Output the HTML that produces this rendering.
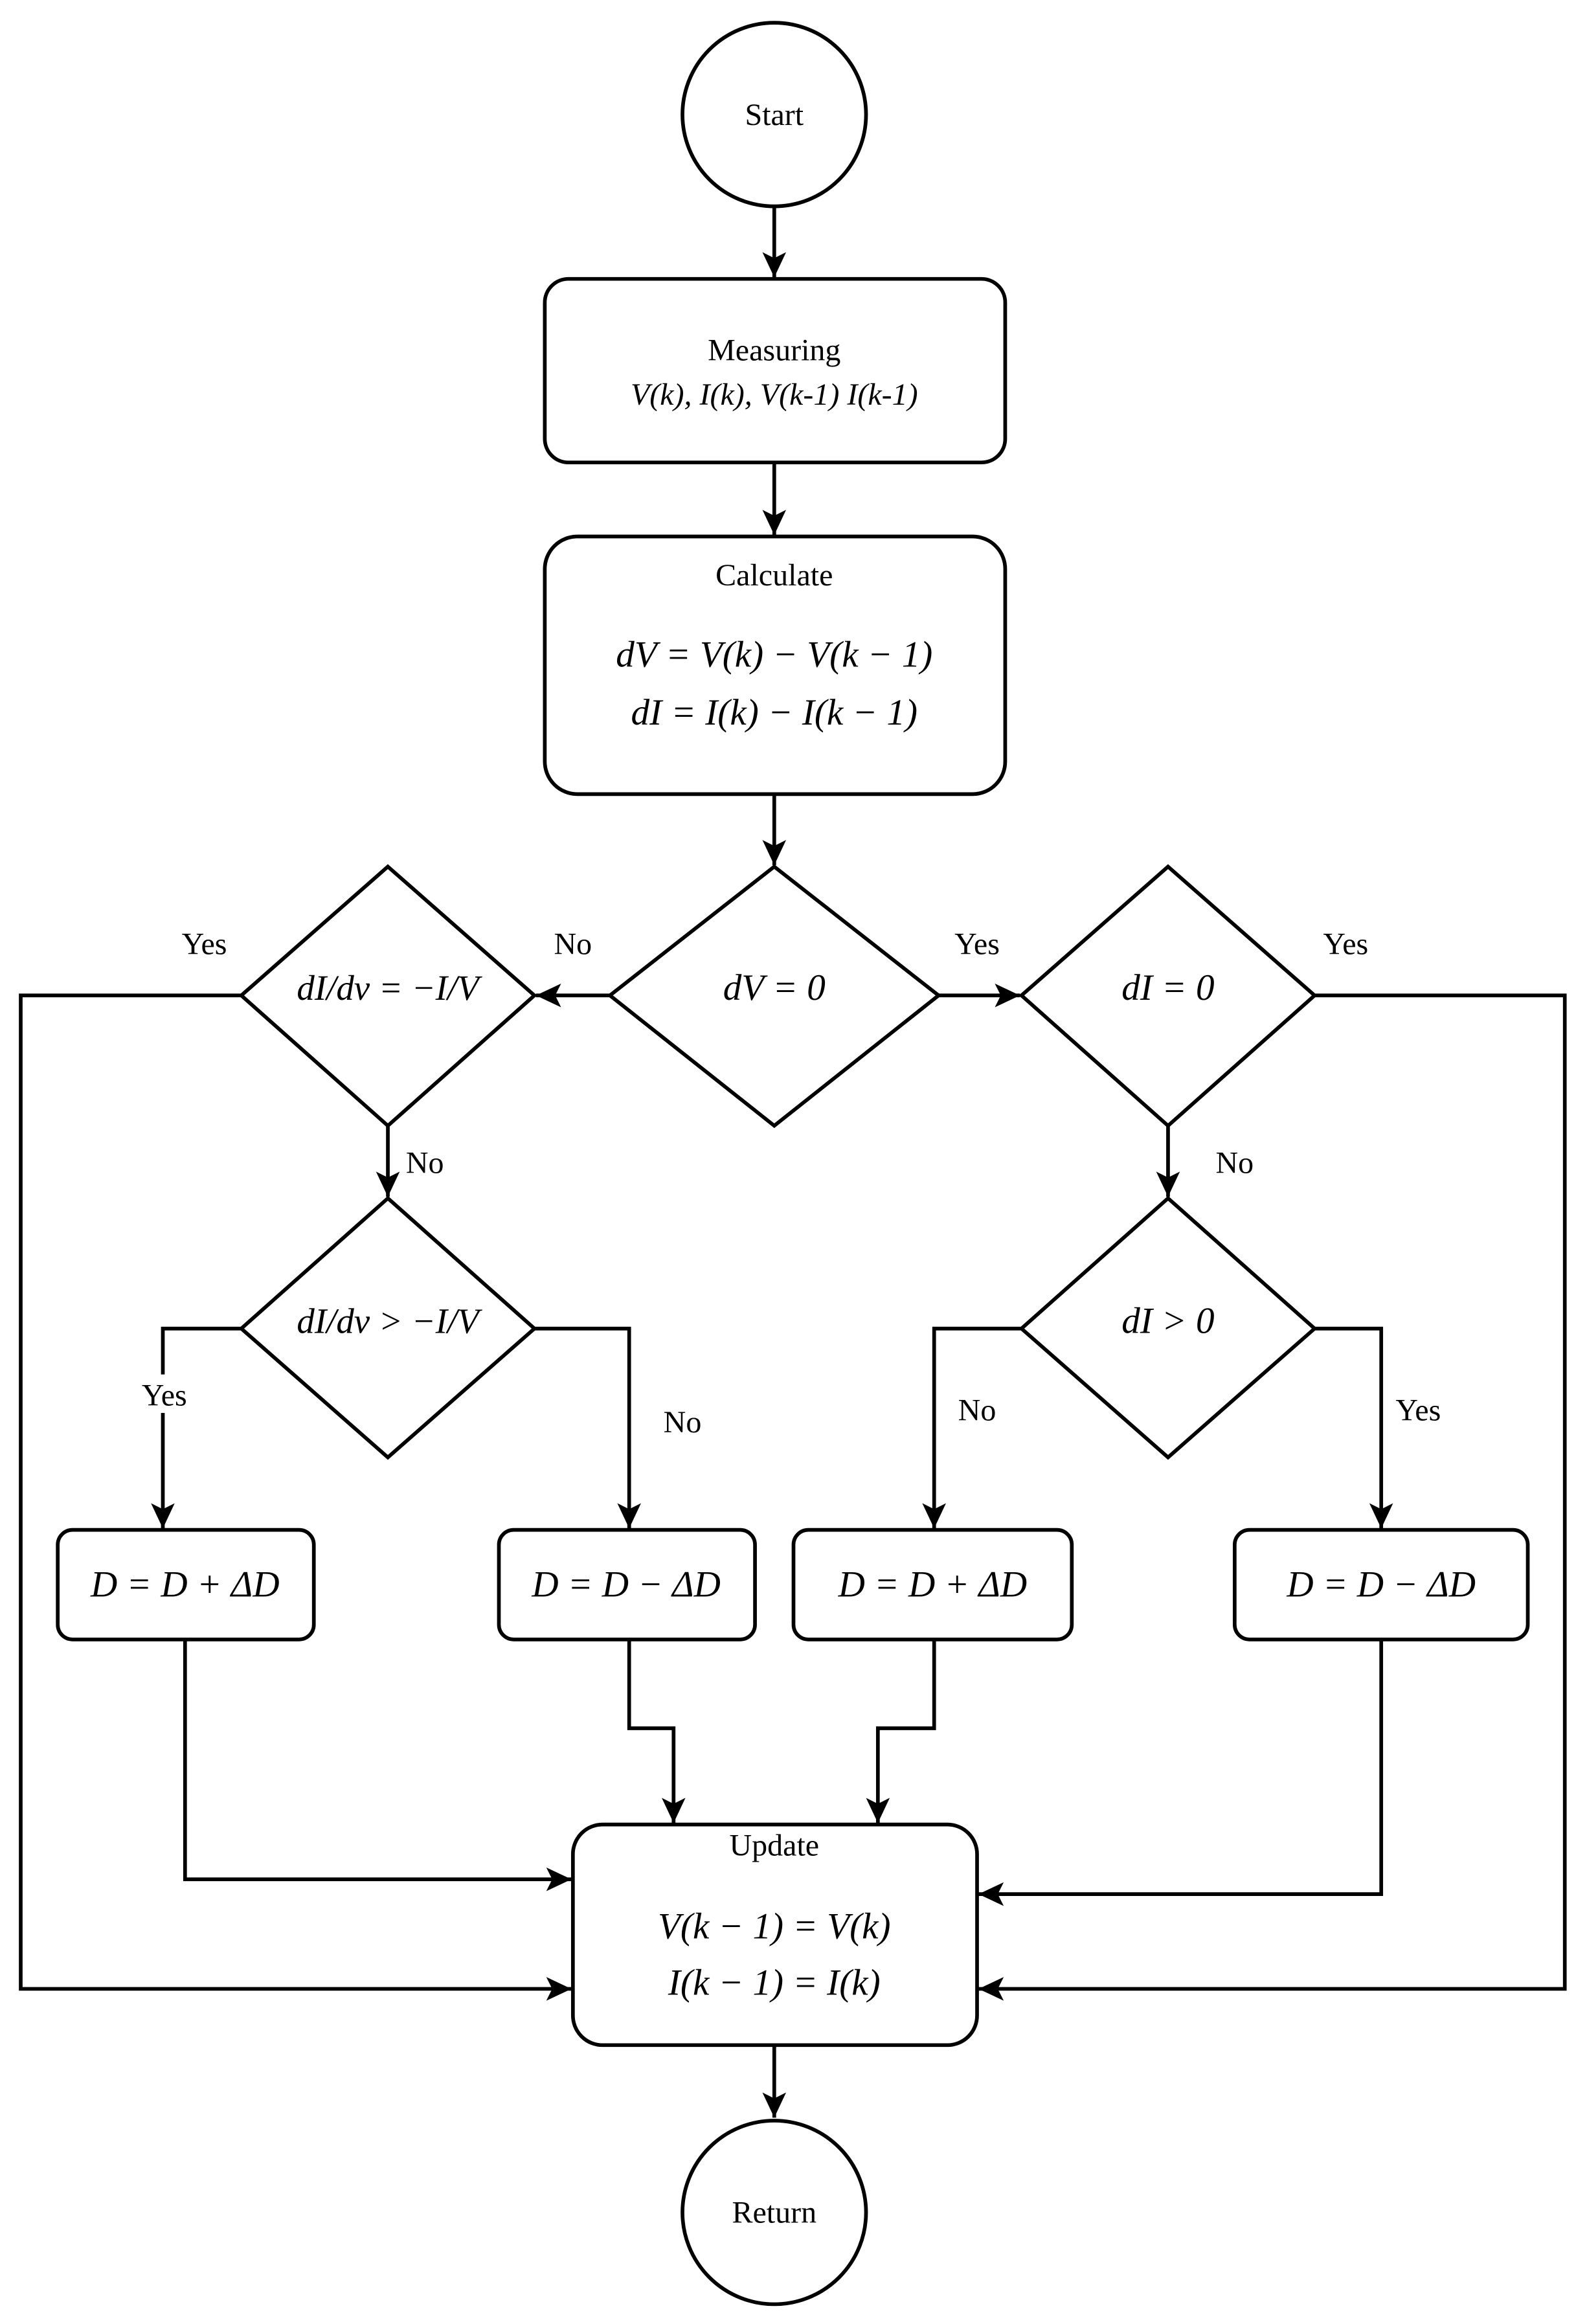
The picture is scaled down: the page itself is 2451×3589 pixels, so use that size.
<!DOCTYPE html>
<html><head><meta charset="utf-8"><style>
html,body{margin:0;padding:0;background:#fff}
svg{display:block}
</style></head><body>
<svg width="2451" height="3589" viewBox="0 0 1072 1569" xmlns="http://www.w3.org/2000/svg">
<defs>
<marker id="a" markerWidth="18" markerHeight="16" refX="17" refY="8" orient="auto" markerUnits="userSpaceOnUse">
<path d="M0,0 L17,8 L0,16 L4,8 Z" fill="#000"/>
</marker>
</defs>
<g fill="none" stroke="#000" stroke-width="2.5">
<circle cx="523" cy="77" r="62" fill="#fff"/>
<circle cx="523" cy="1494" r="62" fill="#fff"/>
<rect x="368" y="188" width="311" height="124" rx="16"/>
<rect x="368" y="362" width="311" height="174" rx="22"/>
<rect x="387" y="1232" width="273" height="149" rx="20"/>
<rect x="39" y="1033" width="173" height="74" rx="10"/>
<rect x="337" y="1033" width="173" height="74" rx="10"/>
<rect x="536" y="1033" width="188" height="74" rx="10"/>
<rect x="834" y="1033" width="198" height="74" rx="10"/>
<polygon points="523,585 634,672 523,760 412,672"/>
<polygon points="262,585 361,672 262,760 163,672"/>
<polygon points="789,585 888,672 789,760 690,672"/>
<polygon points="262,809 361,897 262,984 163,897"/>
<polygon points="789,809 888,897 789,984 690,897"/>
</g>
<g fill="none" stroke="#000" stroke-width="2.5" marker-end="url(#a)">
<path d="M523,139 V187"/>
<path d="M523,312 V361"/>
<path d="M523,536 V584"/>
<path d="M412,672 H362"/>
<path d="M634,672 H689"/>
<path d="M163,672 H14 V1343 H386"/>
<path d="M888,672 H1057 V1343 H661"/>
<path d="M262,760 V808"/>
<path d="M789,760 V808"/>
<path d="M163,897 H110 V1032"/>
<path d="M361,897 H425 V1032"/>
<path d="M690,897 H631 V1032"/>
<path d="M888,897 H933 V1032"/>
<path d="M125,1107 V1269 H386"/>
<path d="M425,1107 V1167 H455 V1231"/>
<path d="M631,1107 V1167 H593 V1231"/>
<path d="M933,1107 V1279 H661"/>
<path d="M523,1381 V1430"/>
</g>
<rect x="92" y="928" width="38" height="26" fill="#fff"/>
<g font-family="Liberation Serif, DejaVu Serif, serif" font-size="21" text-anchor="middle" fill="#000">
<text x="523" y="84">Start</text>
<text x="523" y="1501">Return</text>
<text x="523" y="243">Measuring</text>
<text x="523" y="273" font-style="italic">V(k), I(k), V(k-1) I(k-1)</text>
<text x="523" y="395">Calculate</text>
<text x="523" y="450" font-style="italic" font-size="25">dV = V(k) − V(k − 1)</text>
<text x="523" y="489" font-style="italic" font-size="25">dI = I(k) − I(k − 1)</text>
<text x="523" y="1253">Update</text>
<text x="523" y="1309" font-style="italic" font-size="25">V(k − 1) = V(k)</text>
<text x="523" y="1347" font-style="italic" font-size="25">I(k − 1) = I(k)</text>
<text x="523" y="675" font-style="italic" font-size="25">dV = 0</text>
<text x="789" y="675" font-style="italic" font-size="25">dI = 0</text>
<text x="789" y="900" font-style="italic" font-size="25">dI &gt; 0</text>
<text x="262" y="675" font-style="italic" font-size="24">dI/dv = −I/V</text>
<text x="262" y="900" font-style="italic" font-size="24">dI/dv &gt; −I/V</text>
<text x="125" y="1078" font-style="italic" font-size="25">D = D + ΔD</text>
<text x="423" y="1078" font-style="italic" font-size="25">D = D − ΔD</text>
<text x="630" y="1078" font-style="italic" font-size="25">D = D + ΔD</text>
<text x="933" y="1078" font-style="italic" font-size="25">D = D − ΔD</text>
<text x="138" y="644">Yes</text>
<text x="387" y="644">No</text>
<text x="660" y="644">Yes</text>
<text x="909" y="644">Yes</text>
<text x="287" y="792">No</text>
<text x="834" y="792">No</text>
<text x="111" y="949">Yes</text>
<text x="461" y="967">No</text>
<text x="660" y="959">No</text>
<text x="958" y="959">Yes</text>
</g>
</svg>
</body></html>
